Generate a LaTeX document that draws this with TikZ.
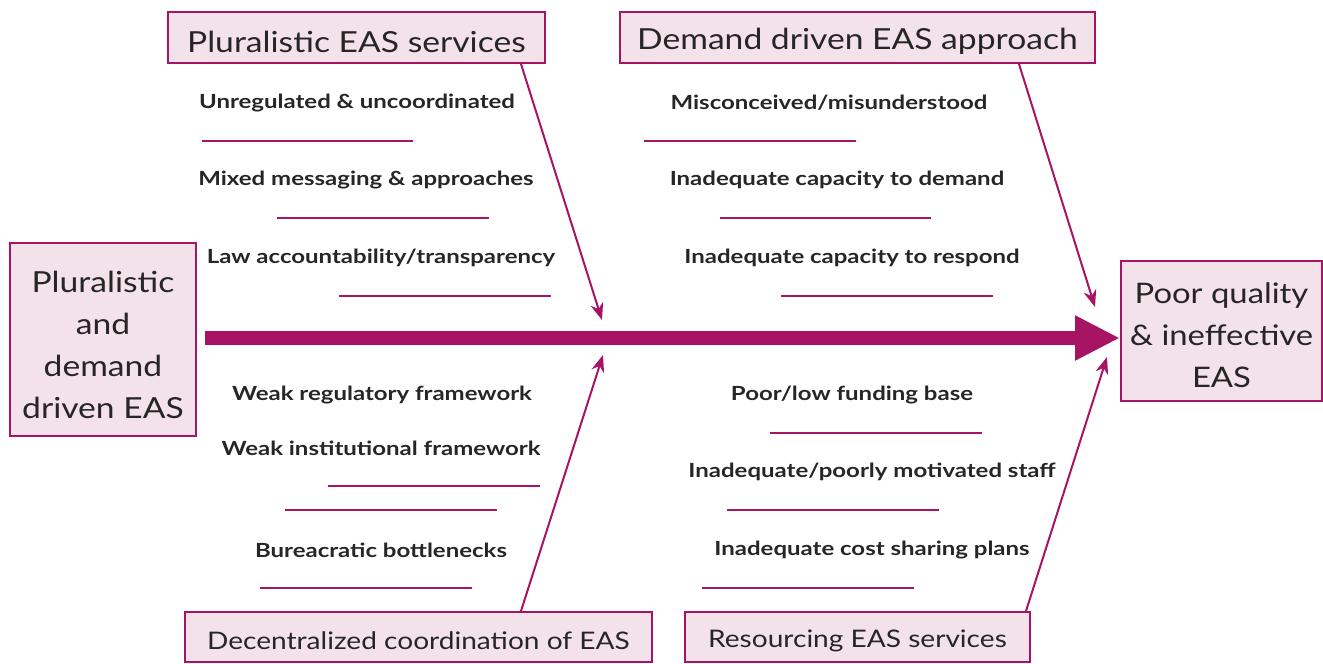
\documentclass[tikz,border=0pt]{standalone}
\usepackage{fontspec}
\setmainfont{Lato}
\newfontfamily\boxfont[FakeStretch=1.16]{Lato}
\newfontfamily\causefont[FakeStretch=1.23]{Lato}
\usetikzlibrary{arrows.meta}
\definecolor{mag}{RGB}{168,20,100}
\definecolor{pinkfill}{RGB}{244,226,234}
\definecolor{txt}{RGB}{38,38,38}
\tikzset{
  box/.style={draw=mag, line width=2pt, fill=pinkfill, inner sep=0pt},
  bigtxt/.style={text=txt, align=center, inner sep=0pt, yshift=-4pt, font=\boxfont\fontsize{29}{42}\selectfont},
  effecttxt/.style={text=txt, align=center, inner sep=0pt, yshift=-4pt, font=\boxfont\fontsize{28.3}{42}\selectfont},
  midtxt/.style={text=txt, align=center, inner sep=0pt, yshift=-4pt, font=\boxfont\fontsize{24.2}{30}\selectfont},
  cause/.style={text=txt, inner sep=0pt, yshift=-2pt, font=\causefont\bfseries\fontsize{19.5}{24}\selectfont},
  uline/.style={draw=mag, line width=1.5pt},
  branch/.style={draw=mag, line width=2pt, -{Stealth[length=17pt,width=13pt]}},
  spine/.style={draw=mag, line width=14pt, -{Triangle[length=45pt,width=42pt]}}
}
\begin{document}
\begin{tikzpicture}[x=1pt,y=-1pt]
\useasboundingbox (0,0) rectangle (1323,664);
% effect and start boxes
\node[box,minimum width=186pt,minimum height=193pt,
  label={[bigtxt,yshift=-1pt]center:Pluralistic\\and\\demand\\driven EAS}] (start) at (103,339.5) {};
\node[box,minimum width=201pt,minimum height=140pt,
  label={[effecttxt]center:Poor quality\\\& ineffective\\EAS}] (effect) at (1221.5,331) {};
% category boxes
\node[box,minimum width=377pt,minimum height=51pt,
  label={[bigtxt]center:Pluralistic EAS services}] (tl) at (356.5,37.5) {};
\node[box,minimum width=475pt,minimum height=51pt,
  label={[bigtxt]center:Demand driven EAS approach}] (tr) at (857.5,37.5) {};
\node[box,minimum width=467pt,minimum height=50pt,
  label={[midtxt]center:Decentralized coordination of EAS}] (bl) at (418.5,637) {};
\node[box,minimum width=345pt,minimum height=50pt,
  label={[midtxt]center:Resourcing EAS services}] (br) at (857.5,637) {};
% spine
\coordinate (spinestart) at (205,338);
\draw[spine] (spinestart) -- (effect.west |- spinestart);
% branch arrows
\coordinate (tlend) at (602,320);
\coordinate (trend) at (1095,307);
\coordinate (blend) at (603,355);
\coordinate (brend) at (1107,357);
\draw[branch] ([xshift=-25pt]tl.south east) -- (tlend);
\draw[branch] ([xshift=-77pt]tr.south east) -- (trend);
\draw[branch] ([xshift=-132pt]bl.north east) -- (blend);
\draw[branch] ([xshift=-5pt]br.north east) -- (brend);
% causes top-left
\node[cause] (c1) at (357,101) {Unregulated \& uncoordinated};
\node[cause] (c2) at (366,178) {Mixed messaging \& approaches};
\node[cause] (c3) at (381,256) {Law accountability/transparency};
\draw[uline] (202,141) -- (413,141);
\draw[uline] (277,218) -- (489,218);
\draw[uline] (339,296) -- (551,296);
% causes top-right
\node[cause] (c4) at (829,101) {Misconceived/misunderstood};
\node[cause] (c5) at (837,178) {Inadequate capacity to demand};
\node[cause] (c6) at (852,256) {Inadequate capacity to respond};
\draw[uline] (644,141) -- (856,141);
\draw[uline] (720,218) -- (931,218);
\draw[uline] (781,296) -- (993,296);
% causes bottom-left
\node[cause] (c7) at (382,393) {Weak regulatory framework};
\node[cause] (c8) at (381,446) {Weak institutional framework};
\node[cause] (c9) at (381,548) {Bureacratic bottlenecks};
\draw[uline] (328,486) -- (540,486);
\draw[uline] (285,510) -- (497,510);
\draw[uline] (260,588) -- (472,588);
% causes bottom-right
\node[cause] (c10) at (852,393) {Poor/low funding base};
\node[cause] (c11) at (872,470) {Inadequate/poorly motivated staff};
\node[cause] (c12) at (872,548) {Inadequate cost sharing plans};
\draw[uline] (770,433) -- (982,433);
\draw[uline] (727,510) -- (939,510);
\draw[uline] (702,588) -- (914,588);
\end{tikzpicture}
\end{document}
